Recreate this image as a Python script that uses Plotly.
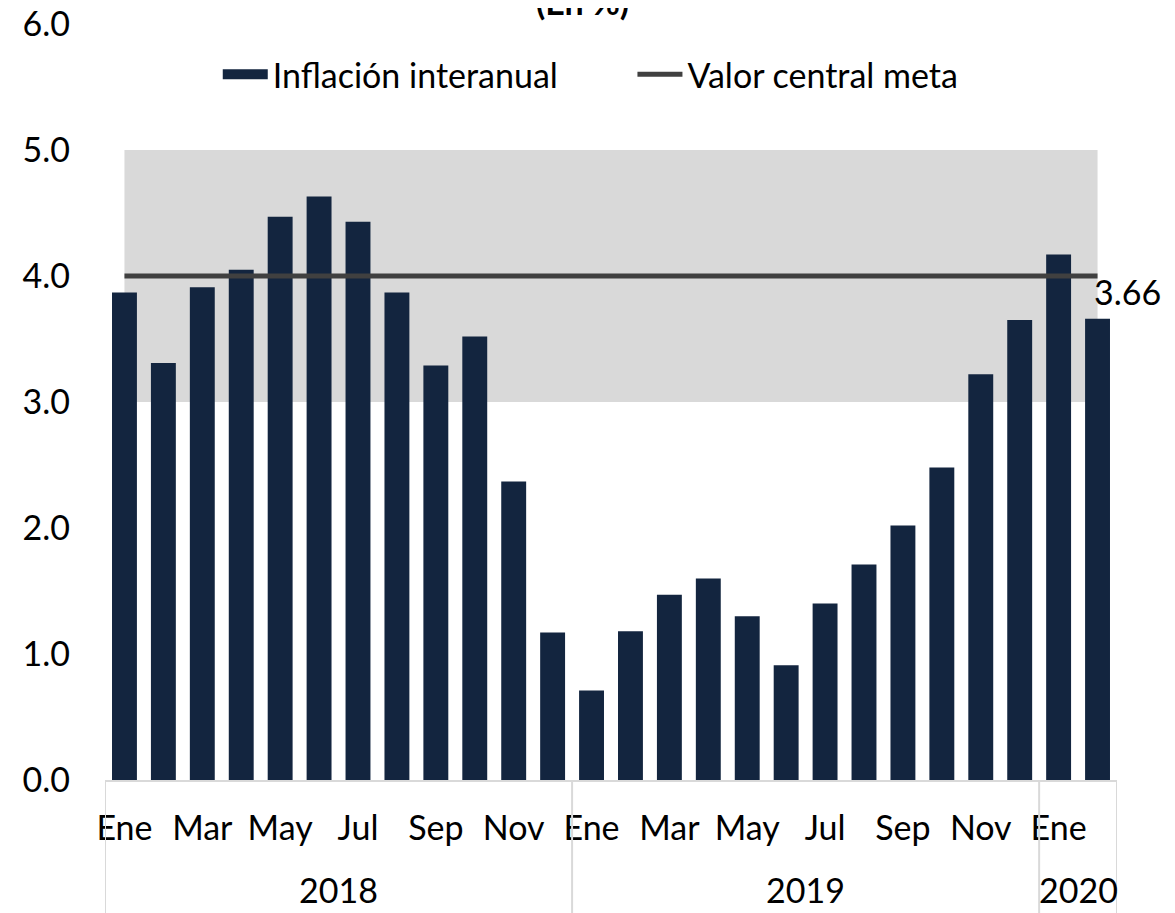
import plotly.graph_objects as go

months = ["Ene", "Feb", "Mar", "Abr", "May", "Jun", "Jul", "Ago", "Sep", "Oct", "Nov", "Dic",
          "Ene", "Feb", "Mar", "Abr", "May", "Jun", "Jul", "Ago", "Sep", "Oct", "Nov", "Dic",
          "Ene", "Feb"]
years = ["2018", "2019", "2020"]
year_counts = [12, 12, 2]
inflacion = [3.87, 3.31, 3.91, 4.05, 4.47, 4.63, 4.43, 3.87, 3.29, 3.52, 2.37, 1.17,
             0.71, 1.18, 1.47, 1.60, 1.30, 0.91, 1.40, 1.71, 2.02, 2.48, 3.22, 3.65,
             4.17, 3.66]
meta = [4.0] * len(inflacion)
band_low, band_high = 3.0, 5.0

FONT = "Lato"
BAR = "#13253f"
x = list(range(len(inflacion)))
NB = "\u00a0"

fig = go.Figure()
fig.add_trace(go.Bar(x=x, y=inflacion, name="Inflación interanual", showlegend=False,
                     marker=dict(color=BAR, line=dict(width=0)), width=0.64))
# legend entry with wide rectangular swatch
fig.add_trace(go.Scatter(x=[None], y=[None], mode="lines", name="Inflación interanual" + NB * 8,
                         line=dict(color=BAR, width=20)))
fig.add_trace(go.Scatter(x=x, y=meta, name="Valor central meta", mode="lines",
                         line=dict(color="#404040", width=5)))

# tolerance band
fig.add_shape(type="rect", xref="x", yref="y", x0=x[0], x1=x[-1], y0=band_low, y1=band_high,
              fillcolor="#d9d9d9", line=dict(width=0), layer="below")

# year group dividers and labels
start = 0
bounds = [-0.5]
for yr, n in zip(years, year_counts):
    fig.add_annotation(x=start + (n - 1) / 2, y=-0.145, xref="x", yref="paper", text=yr,
                       showarrow=False, font=dict(size=34, color="black", family=FONT),
                       yanchor="middle")
    start += n
    bounds.append(start - 0.5)
for b in bounds:
    fig.add_shape(type="line", xref="x", yref="paper", x0=b, x1=b, y0=0, y1=-0.2,
                  line=dict(color="#d9d9d9", width=2))

# last value label
fig.add_annotation(x=x[-1], y=inflacion[-1], text=f"{inflacion[-1]:.2f}", showarrow=False,
                   xanchor="left", yanchor="middle", xshift=-6, yshift=27,
                   font=dict(size=34, color="black", family=FONT))

# title (cut off at top)
fig.add_annotation(x=0.472, y=1.0304, xref="paper", yref="paper", text="<b>(En %)</b>",
                   showarrow=False, yanchor="middle",
                   font=dict(size=34, color="black", family=FONT))

tickvals = x[::2]
ticktext = [months[i] for i in tickvals]

fig.update_layout(
    width=1175, height=913,
    margin=dict(l=97, r=66, t=16, b=141, autoexpand=False),
    paper_bgcolor="white", plot_bgcolor="white",
    font=dict(family=FONT, size=34, color="black"),
    showlegend=True,
    legend=dict(orientation="h", x=0.48, xanchor="center", y=0.933, yanchor="middle",
                font=dict(size=34, family=FONT), bgcolor="rgba(0,0,0,0)",
                itemwidth=45, tracegroupgap=0),
    xaxis=dict(range=[-0.5, len(x) - 0.5], tickmode="array", tickvals=tickvals,
               ticktext=ticktext, showgrid=False, zeroline=False, showline=True,
               linecolor="#d9d9d9", linewidth=2, ticks="", tickfont=dict(size=34),
               ticklabelstandoff=17, automargin=False, fixedrange=True),
    yaxis=dict(range=[0, 6], tickmode="array", tickvals=[0, 1, 2, 3, 4, 5, 6],
               ticktext=["0.0", "1.0", "2.0", "3.0", "4.0", "5.0", "6.0"],
               showgrid=False, zeroline=False, showline=False, ticks="",
               tickfont=dict(size=34), ticklabelstandoff=34, automargin=False,
               ticklabeloverflow="allow"),
)

fig.write_html("out.html")
